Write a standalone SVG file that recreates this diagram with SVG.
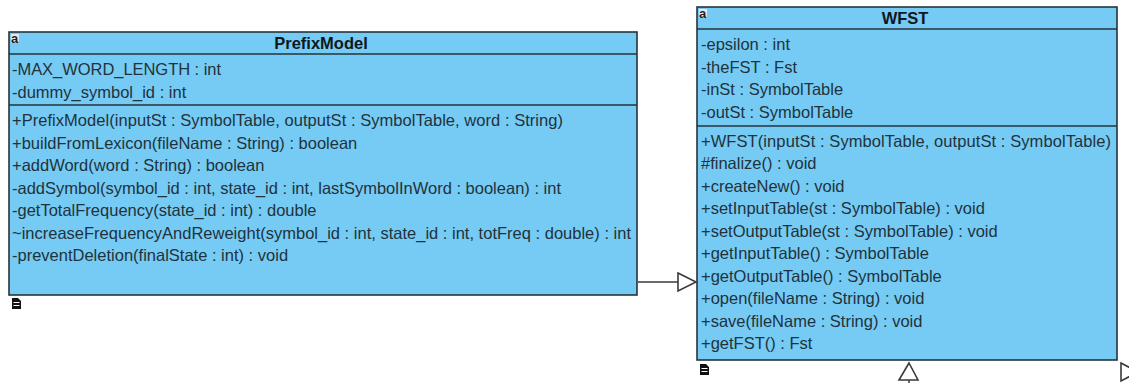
<svg xmlns="http://www.w3.org/2000/svg" width="1129" height="383" viewBox="0 0 1129 383">
<style>
.box{fill:#75cbf4;stroke:#26343c;stroke-width:1.6}
.div{stroke:#26343c;stroke-width:1.3;fill:none}
text{font-family:"Liberation Sans",Arial,sans-serif;fill:#22323c}
.m{font-size:16.5px}
.t{font-size:16.5px;font-weight:bold;text-anchor:middle;fill:#10181d}
.a{font-size:13px;font-weight:bold;fill:#222}
.ab{fill:#e4e8ea;stroke:none}
.doc{fill:#111}
.head{fill:#fff;stroke:#3a3a3a;stroke-width:1.6}
.conn{fill:none;stroke:#3a3a3a;stroke-width:1.5}
</style>
<defs>
<path id="docicon" class="doc" d="M0 0h6l3 3v8h-9zM1.500 4v1h6v-1zM1.500 7v1h6v-1z" fill-rule="evenodd"/>
</defs>
<rect width="1129" height="383" fill="#fff"/>
<g id="PrefixModel">
<rect class="box" x="9" y="32" width="628" height="263"/>
<path class="div" d="M9 54H637M9 105H637"/>
<rect class="ab" x="11" y="34" width="8" height="9"/>
<text class="a" x="11" y="43">a</text>
<text class="t" x="321" y="49">PrefixModel</text>
<text class="m" x="12" y="75" textLength="209">-MAX_WORD_LENGTH : int</text>
<text class="m" x="12" y="98">-dummy_symbol_id : int</text>
<text class="m" x="12" y="126" textLength="551">+PrefixModel(inputSt : SymbolTable, outputSt : SymbolTable, word : String)</text>
<text class="m" x="12" y="149">+buildFromLexicon(fileName : String) : boolean</text>
<text class="m" x="12" y="171">+addWord(word : String) : boolean</text>
<text class="m" x="12" y="194" textLength="549">-addSymbol(symbol_id : int, state_id : int, lastSymbolInWord : boolean) : int</text>
<text class="m" x="12" y="216">-getTotalFrequency(state_id : int) : double</text>
<text class="m" x="12" y="239" textLength="619">~increaseFrequencyAndReweight(symbol_id : int, state_id : int, totFreq : double) : int</text>
<text class="m" x="12" y="261">-preventDeletion(finalState : int) : void</text>
<use href="#docicon" x="12" y="298"/>
</g>
<g id="WFST">
<rect class="box" x="697" y="7" width="420" height="353"/>
<path class="div" d="M697 29H1117M697 126H1117"/>
<rect class="ab" x="699" y="9" width="8" height="9"/>
<text class="a" x="699" y="18">a</text>
<text class="t" x="905" y="24">WFST</text>
<text class="m" x="701" y="50">-epsilon : int</text>
<text class="m" x="701" y="73">-theFST : Fst</text>
<text class="m" x="701" y="95">-inSt : SymbolTable</text>
<text class="m" x="701" y="118">-outSt : SymbolTable</text>
<text class="m" x="701" y="147" textLength="410">+WFST(inputSt : SymbolTable, outputSt : SymbolTable)</text>
<text class="m" x="701" y="169">#finalize() : void</text>
<text class="m" x="701" y="192">+createNew() : void</text>
<text class="m" x="701" y="214">+setInputTable(st : SymbolTable) : void</text>
<text class="m" x="701" y="237">+setOutputTable(st : SymbolTable) : void</text>
<text class="m" x="701" y="259">+getInputTable() : SymbolTable</text>
<text class="m" x="701" y="282">+getOutputTable() : SymbolTable</text>
<text class="m" x="701" y="304">+open(fileName : String) : void</text>
<text class="m" x="701" y="327">+save(fileName : String) : void</text>
<text class="m" x="701" y="349">+getFST() : Fst</text>
<use href="#docicon" x="700" y="364"/>
</g>
<g id="connectors">
<path class="conn" d="M638 282H678"/>
<path class="head" d="M678 273L696 282L678 291Z"/>
<path class="head" d="M909 363L918 380H899Z"/>
<path class="conn" d="M909 380V383"/>
<path class="head" d="M1121 363L1138 372L1121 381Z"/>
</g>
</svg>
